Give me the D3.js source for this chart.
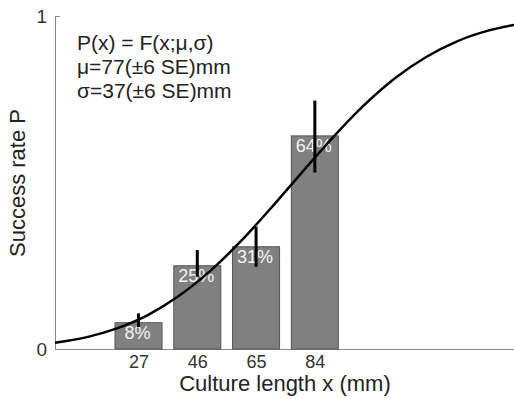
<!DOCTYPE html>
<html>
<head>
<meta charset="utf-8">
<script src="https://cdn.jsdelivr.net/npm/d3@7"></script>
<style>
  body { margin: 0; background: #fff; }
  svg { display: block; font-family: "Liberation Sans", Arial, sans-serif; }
</style>
</head>
<body>
<svg id="chart" width="514" height="399"></svg>
<script>
// bins (mm) and observed success rates
var lengths = [27, 46, 65, 84];
var rates = [0.079, 0.25, 0.307, 0.64];
var rateLabels = ["8%", "25%", "31%", "64%"];
var errLow = [0.066, 0.217, 0.247, 0.53];
var errHigh = [0.107, 0.297, 0.367, 0.746];

// fitted curve
var curveX = [0, 10, 20, 30, 40, 50, 60, 70, 80, 90, 100, 110, 120, 130, 140, 150];
var curveP = [0.019, 0.035, 0.062, 0.102, 0.159, 0.233, 0.323, 0.425, 0.532, 0.637, 0.733, 0.814, 0.877, 0.924, 0.956, 0.976];

var yTicks = [0, 1];
var fitText = ["P(x) = F(x;\u03bc,\u03c3)", "\u03bc=77(\u00b16 SE)mm", "\u03c3=37(\u00b16 SE)mm"];

var binWidth = 15.2;  // mm

var svg = d3.select("#chart");

var x = d3.scaleLinear().domain([0, 150]).range([55, 519]);
var y = d3.scaleLinear().domain([0, 1]).range([349, 16]);

// axes
var yAxis = d3.axisLeft(y).tickValues(yTicks).tickFormat(d3.format("d"))
  .tickSizeInner(-5).tickSizeOuter(0).tickPadding(8);
var xAxis = d3.axisBottom(x).tickValues(lengths)
  .tickSizeInner(-5).tickSizeOuter(0).tickPadding(6);

var gy = svg.append("g").attr("transform", "translate(55,0)").call(yAxis);
gy.selectAll("text").style("font-size", "19px").attr("fill", "#333");

var gx = svg.append("g").attr("transform", "translate(0,349)").call(xAxis);
gx.selectAll("text").style("font-size", "18px").attr("fill", "#333");

svg.selectAll(".domain").attr("stroke", "#888");
svg.selectAll(".tick line").attr("stroke", "#888");

// bars
svg.append("g").selectAll("rect")
  .data(lengths)
  .enter().append("rect")
    .attr("x", function(d){ return x(d - binWidth / 2); })
    .attr("width", function(d){ return x(d + binWidth / 2) - x(d - binWidth / 2); })
    .attr("y", function(d, i){ return y(rates[i]); })
    .attr("height", function(d, i){ return y(0) - y(rates[i]); })
    .attr("fill", "#808080")
    .attr("stroke", "#555")
    .attr("stroke-width", 1);

// percent labels
svg.append("g").selectAll("text")
  .data(lengths)
  .enter().append("text")
    .attr("x", function(d){ return x(d) - 1; })
    .attr("y", function(d, i){ return y(rates[i]) + 16.5; })
    .attr("text-anchor", "middle")
    .style("font-size", "18px")
    .attr("fill", "#f4f4f4")
    .text(function(d, i){ return rateLabels[i]; });

// fitted curve
var line = d3.line()
  .x(function(d){ return x(d); })
  .y(function(d, i){ return y(curveP[i]); })
  .curve(d3.curveMonotoneX);

svg.append("path")
  .datum(curveX)
  .attr("d", line)
  .attr("fill", "none")
  .attr("stroke", "#000")
  .attr("stroke-width", 2.5);

// error bars
svg.append("g").selectAll("line")
  .data(lengths)
  .enter().append("line")
    .attr("x1", function(d){ return x(d); })
    .attr("x2", function(d){ return x(d); })
    .attr("y1", function(d, i){ return y(errLow[i]); })
    .attr("y2", function(d, i){ return y(errHigh[i]); })
    .attr("stroke", "#000")
    .attr("stroke-width", 3);

// fit parameters
svg.append("g").selectAll("text")
  .data(fitText)
  .enter().append("text")
    .attr("x", 77)
    .attr("y", function(d, i){ return 50 + i * 24; })
    .style("font-size", "21px")
    .attr("fill", "#222")
    .text(function(d){ return d; });

// axis titles
svg.append("text")
  .attr("x", 285)
  .attr("y", 391)
  .attr("text-anchor", "middle")
  .style("font-size", "22px")
  .attr("fill", "#222")
  .text("Culture length x (mm)");

svg.append("text")
  .attr("transform", "translate(25,183) rotate(-90)")
  .attr("text-anchor", "middle")
  .style("font-size", "22px")
  .attr("fill", "#222")
  .text("Success rate P");
</script>
</body>
</html>
